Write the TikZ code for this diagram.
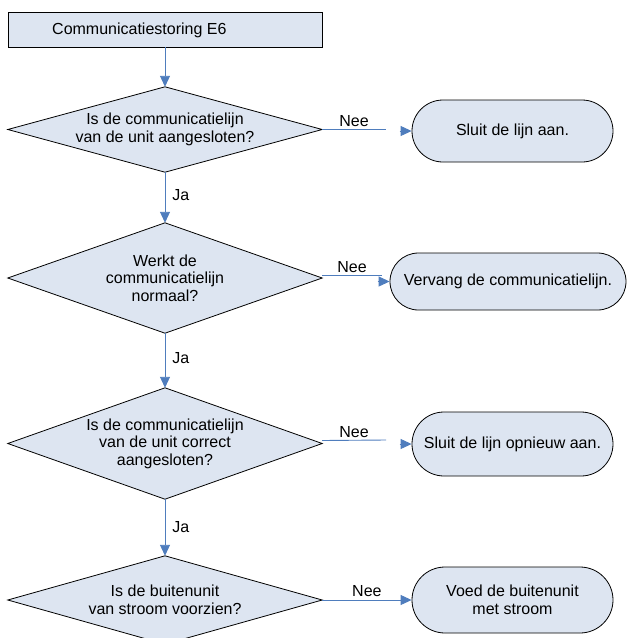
\documentclass[tikz,border=0pt]{standalone}
\usepackage{fontspec}
\setmainfont{Liberation Sans}
\usetikzlibrary{shapes.misc,arrows.meta}
\definecolor{boxfill}{RGB}{221,229,241}
\definecolor{arrowblue}{RGB}{79,125,189}
\tikzset{
  txt/.style={font=\fontsize{16}{17.5}\selectfont, text=black},
  startbox/.style={draw=black, line width=0.8pt, fill=boxfill, rectangle, minimum width=314pt, minimum height=35pt, inner sep=0pt},
  decision/.style={rectangle, minimum width=314pt, inner sep=0pt, align=center, txt,
    path picture={\fill[boxfill] (path picture bounding box.north) -- (path picture bounding box.east) -- (path picture bounding box.south) -- (path picture bounding box.west) -- cycle;}},
  diamondline/.style={draw=black, line width=0.8pt, line join=miter},
  terminal/.style={draw=black, line width=0.8pt, fill=boxfill, rounded rectangle, inner sep=0pt, align=center, txt},
  flow/.style={draw=arrowblue, line width=0.9pt},
  arr/.style={flow, -{Triangle[length=11pt,width=10pt]}},
  lbl/.style={txt, inner sep=0pt}
}
\begin{document}
\begin{tikzpicture}[x=1pt,y=-1pt]
\useasboundingbox (0,0) rectangle (627,638);
% start box
\node[startbox] (start) at (165,29.5) {};
\node[lbl, anchor=west] (starttxt) at (52,30) {Communicatiestoring E6};
% decisions
\node[decision, minimum height=85pt] (d1) at (165,129.5) {Is de communicatielijn\\van de unit aangesloten?};
\node[decision, minimum height=110pt] (d2) at (165,278) {Werkt de\\communicatielijn\\normaal?};
\node[decision, minimum height=111pt] (d3) at (165,443.5) {Is de communicatielijn\\van de unit correct\\aangesloten?};
\node[decision, minimum height=88pt] (d4) at (165,600) {Is de buitenunit\\van stroom voorzien?};
\foreach \d in {d1,d2,d3,d4}
  \draw[diamondline] (\d.north) -- (\d.east) -- (\d.south) -- (\d.west) -- cycle;
% terminals
\node[terminal, minimum width=201pt, minimum height=62pt] (t1) at (512.5,131) {Sluit de lijn aan.};
\node[terminal, minimum width=236pt, minimum height=57pt] (t2) at (508,281.5) {Vervang de communicatielijn.};
\node[terminal, minimum width=201pt, minimum height=64pt] (t3) at (512.5,444) {Sluit de lijn opnieuw aan.};
\node[terminal, minimum width=201pt, minimum height=66pt] (t4) at (512.5,600) {Voed de buitenunit\\met stroom};
% vertical flow
\draw[arr] (start.south) -- (d1.north);
\draw[arr] (d1.south) -- (d2.north) node[pos=0.45, right=7pt, lbl] (ja1) {Ja};
\draw[arr] (d2.south) -- (d3.north) node[pos=0.45, right=7pt, lbl] (ja2) {Ja};
\draw[arr] (d3.south) -- (d4.north) node[pos=0.5, right=7pt, lbl] (ja3) {Ja};
% Nee branches
\coordinate (e1) at (386,129.5);
\draw[flow] (d1.east) -- (e1) node[pos=0.5, above=2pt, lbl] (nee1) {Nee};
\draw[arr] ([xshift=-12pt]t1.west) -- (t1.west);
\coordinate (e2) at (382,275);
\draw[flow] ([yshift=3pt]d2.east) -- (e2) node[pos=0.5, above=2pt, lbl] (nee2) {Nee};
\draw[arr] ([xshift=-12pt]t2.west) -- (t2.west);
\coordinate (e3) at (386,440);
\draw[flow] ([yshift=3pt]d3.east) -- (e3) node[pos=0.5, above=2pt, lbl] (nee3) {Nee};
\draw[arr] ([xshift=-12pt]t3.west) -- (t3.west);
\draw[arr] (d4.east) -- (t4.west) node[pos=0.5, above=3pt, lbl] (nee4) {Nee};
\end{tikzpicture}
\end{document}
